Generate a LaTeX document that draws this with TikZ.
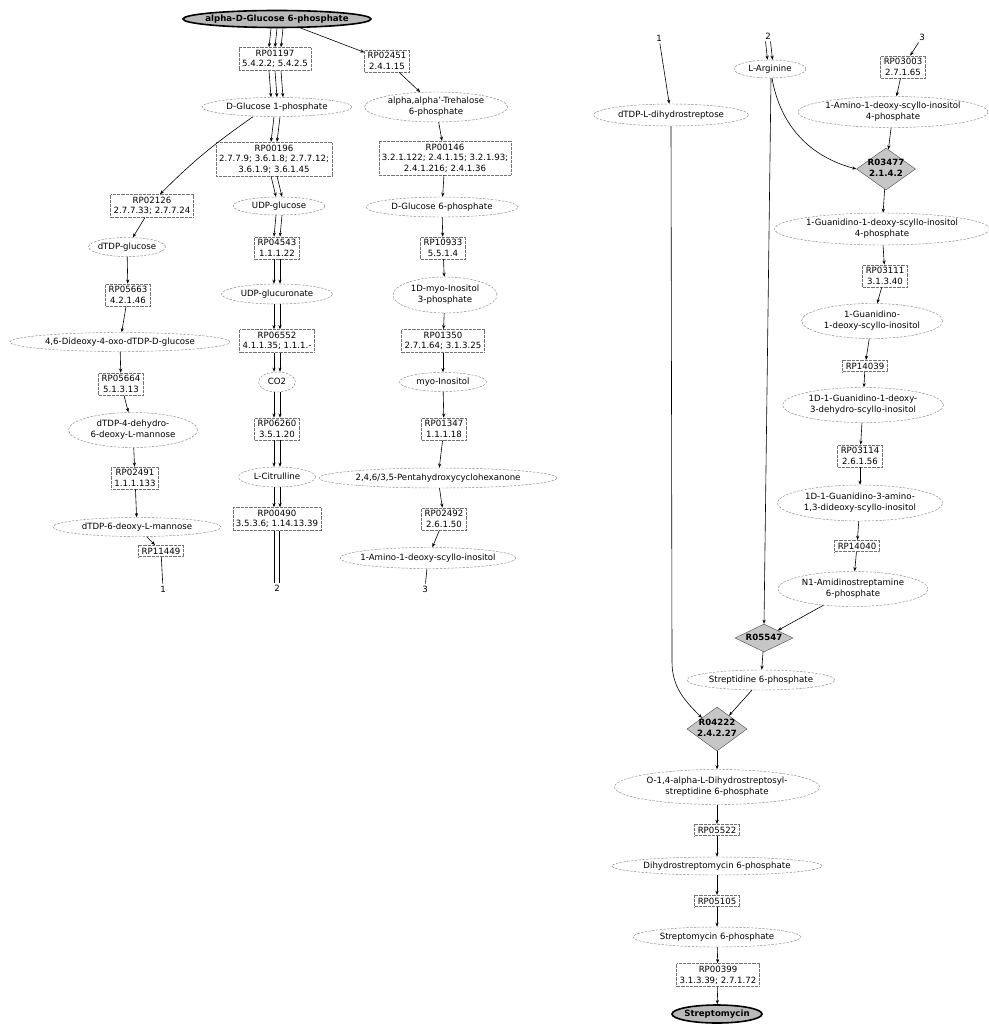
\documentclass[tikz,border=0pt]{standalone}
\usepackage{fontspec}
\setmainfont{DejaVu Sans}
\usetikzlibrary{shapes.geometric,arrows.meta}

% base font for every label
\newcommand\nf{\fontsize{8.6}{10.6}\selectfont}
% centred text of zero width, so a node keeps its given size
\newcommand\zw[1]{\makebox[0pt]{\begin{tabular}{@{}c@{}}#1\end{tabular}}}
% several parallel arrows between two vertically stacked nodes
\newcommand\pedges[3]{\foreach \s in {#3}{\draw[arr] ([xshift=\s pt]#1.south) -- ([xshift=\s pt]#2.north);}}

\tikzset{
  met/.style 2 args={ellipse, draw=gray!95, dash pattern=on 2.4pt off 1.4pt,
    line width=0.45pt, minimum width=#1, minimum height=#2, inner sep=0pt},
  rxn/.style={rectangle, draw=black!55, dash pattern=on 0.5pt off 0.8pt,
    line width=0.55pt, inner xsep=3pt, inner ysep=2.5pt, align=center},
  gate/.style 2 args={diamond, draw=gray!60!black, fill=gray!45, line width=0.4pt,
    minimum width=#1, minimum height=#2, inner sep=0pt, font=\nf\bfseries},
  term/.style 2 args={ellipse, draw=black, line width=1.6pt, fill=gray!55,
    minimum width=#1, minimum height=#2, inner sep=0pt, font=\nf\bfseries},
  num/.style={inner sep=2pt, font=\nf},
  arr/.style={-{Stealth[length=4.2pt,width=3.2pt]}, line width=0.6pt},
  stub/.style={line width=0.6pt},
}

\begin{document}
\begin{tikzpicture}[x=1pt, y=1pt, font=\nf]
\fill[white] (0,0) rectangle (988,-1024);
\useasboundingbox (0,0) rectangle (988,-1024);

% ---------------- left part: three feeder pathways ----------------
\node[term={188}{17}] (g6pa) at (277,-19) {\zw{alpha-D-Glucose 6-phosphate}};
\node[rxn] (rp01197) at (275,-59) {RP01197\\5.4.2.2; 5.4.2.5};
\node[rxn] (rp02451) at (387,-61) {RP02451\\2.4.1.15};
\node[met={150}{19}] (g1p) at (277,-107) {\zw{D-Glucose 1-phosphate}};
\node[met={143}{29}] (tre6p) at (436,-107) {\zw{alpha,alpha'-Trehalose\\6-phosphate}};
\node[rxn] (rp00196) at (274,-159) {RP00196\\2.7.7.9; 3.6.1.8; 2.7.7.12;\\3.6.1.9; 3.6.1.45};
\node[rxn] (rp00146) at (445,-158) {RP00146\\3.2.1.122; 2.4.1.15; 3.2.1.93;\\2.4.1.216; 2.4.1.36};
\node[rxn] (rp02126) at (152,-206) {RP02126\\2.7.7.33; 2.7.7.24};
\node[met={92}{18}] (udpglc) at (279,-206) {\zw{UDP-glucose}};
\node[met={152}{20}] (g6pb) at (442,-207) {\zw{D-Glucose 6-phosphate}};
\node[met={77}{19}] (dtdpglc) at (127,-247) {\zw{dTDP-glucose}};
\node[rxn] (rp04543) at (277,-248) {RP04543\\1.1.1.22};
\node[rxn] (rp10933) at (443,-248) {RP10933\\5.5.1.4};
\node[met={111}{20}] (udpgla) at (277,-294) {\zw{UDP-glucuronate}};
\node[met={104}{36}] (mi3p) at (445,-295) {\zw{1D-myo-Inositol\\3-phosphate}};
\node[rxn] (rp05663) at (128,-295) {RP05663\\4.2.1.46};
\node[met={220}{19}] (dideoxy) at (120,-342) {\zw{4,6-Dideoxy-4-oxo-dTDP-D-glucose}};
\node[rxn] (rp06552) at (277,-341) {RP06552\\4.1.1.35; 1.1.1.-};
\node[rxn] (rp01350) at (443,-341) {RP01350\\2.7.1.64; 3.1.3.25};
\node[met={37}{20}] (co2) at (277,-382) {\zw{CO2}};
\node[met={87}{19}] (myoino) at (443,-382) {\zw{myo-Inositol}};
\node[rxn] (rp05664) at (121,-384) {RP05664\\5.1.3.13};
\node[met={129}{35}] (dehydro) at (133,-430) {\zw{dTDP-4-dehydro-\\6-deoxy-L-mannose}};
\node[rxn] (rp06260) at (277,-429) {RP06260\\3.5.1.20};
\node[rxn] (rp01347) at (444,-429) {RP01347\\1.1.1.18};
\node[met={77}{20}] (citr) at (277,-477) {\zw{L-Citrulline}};
\node[met={238}{20}] (penta) at (438,-478) {\zw{2,4,6/3,5-Pentahydroxycyclohexanone}};
\node[rxn] (rp02491) at (135,-478) {RP02491\\1.1.1.133};
\node[rxn] (rp00490) at (277,-519) {RP00490\\3.5.3.6; 1.14.13.39};
\node[rxn] (rp02492) at (444,-519) {RP02492\\2.6.1.50};
\node[met={168}{19}] (deoxyman) at (137,-527) {\zw{dTDP-6-deoxy-L-mannose}};
\node[rxn] (rp11449) at (161,-551) {RP11449};
\node[met={176}{21}] (amino) at (428,-558) {\zw{1-Amino-1-deoxy-scyllo-inositol}};
\node[num] (l1a) at (163,-589) {1};
\node[num] (l2a) at (277,-588) {2};
\node[num] (l3a) at (425,-589) {3};

% connectors, left part
\pedges{g6pa}{rp01197}{-6,0,6}
\draw[arr] (g6pa) -- (rp02451);
\pedges{rp01197}{g1p}{-6,0,6}
\draw[arr] (rp02451) -- (tre6p);
\pedges{g1p}{rp00196}{-3,3}
\draw[arr] ([xshift=-24pt]g1p.south) to[out=-145, in=45] ([xshift=8pt]rp02126.north);
\draw[arr] (tre6p) -- (rp00146);
\pedges{rp00196}{udpglc}{-3,3}
\draw[arr] (rp00146) -- (g6pb);
\pedges{udpglc}{rp04543}{-3,3}
\draw[arr] (g6pb) -- (rp10933);
\draw[arr] (rp02126) -- (dtdpglc);
\pedges{rp04543}{udpgla}{-3,3}
\draw[arr] (rp10933) -- (mi3p);
\draw[arr] (dtdpglc) -- (rp05663);
\pedges{udpgla}{rp06552}{-3,3}
\draw[arr] (mi3p) -- (rp01350);
\draw[arr] (rp05663) -- (dideoxy);
\pedges{rp06552}{co2}{-3,3}
\draw[arr] (rp01350) -- (myoino);
\draw[arr] (dideoxy) -- (rp05664);
\pedges{co2}{rp06260}{-3,3}
\draw[arr] (myoino) -- (rp01347);
\draw[arr] (rp05664) -- (dehydro);
\pedges{rp06260}{citr}{-3,3}
\draw[arr] (rp01347) -- (penta);
\draw[arr] (dehydro) -- (rp02491);
\pedges{citr}{rp00490}{-3,3}
\draw[arr] (penta) -- (rp02492);
\draw[arr] (rp02491) -- (deoxyman);
\foreach \s in {-2.5,2.5}{\draw[stub] ([xshift=\s pt]rp00490.south) -- ([xshift=\s pt]l2a.north);}
\draw[arr] (rp02492) -- (amino);
\draw[arr] (deoxyman) -- (rp11449);
\draw[stub] (rp11449) -- (l1a);
\draw[stub] (amino) -- (l3a);

% ---------------- right part: streptomycin assembly ----------------
\node[num] (l1b) at (659,-38) {1};
\node[num] (l2b) at (768,-36) {2};
\node[num] (l3b) at (922,-37) {3};
\node[met={155}{22}] (dhs) at (671,-115) {\zw{dTDP-L-dihydrostreptose}};
\node[met={72}{18}] (arg) at (770,-69) {\zw{L-Arginine}};
\node[rxn] (rp03003) at (903,-67) {RP03003\\2.7.1.65};
\node[met={190}{31}] (amino4p) at (893,-112) {\zw{1-Amino-1-deoxy-scyllo-inositol\\4-phosphate}};
\node[gate={59}{42}] (r03477) at (886,-169) {\zw{R03477\\2.1.4.2}};
\node[met={215}{32}] (guan4p) at (882,-229) {\zw{1-Guanidino-1-deoxy-scyllo-inositol\\4-phosphate}};
\node[rxn] (rp03111) at (885,-276) {RP03111\\3.1.3.40};
\node[met={141}{35}] (guan) at (872,-321) {\zw{1-Guanidino-\\1-deoxy-scyllo-inositol}};
\node[rxn] (rp14039) at (865,-366) {RP14039};
\node[met={161}{35}] (guandh) at (863,-405) {\zw{1D-1-Guanidino-1-deoxy-\\3-dehydro-scyllo-inositol}};
\node[rxn] (rp03114) at (860,-456) {RP03114\\2.6.1.56};
\node[met={165}{36}] (guanam) at (860,-503) {\zw{1D-1-Guanidino-3-amino-\\1,3-dideoxy-scyllo-inositol}};
\node[rxn] (rp14040) at (857,-546) {RP14040};
\node[met={150}{35}] (n1) at (853,-589) {\zw{N1-Amidinostreptamine\\6-phosphate}};
\node[gate={58}{28}] (r05547) at (764,-638) {\zw{R05547}};
\node[met={148}{20}] (strep6p) at (761,-680) {\zw{Streptidine 6-phosphate}};
\node[gate={60}{44}] (r04222) at (717,-729) {\zw{R04222\\2.4.2.27}};
\node[met={205}{35}] (odhs) at (717,-787) {\zw{O-1,4-alpha-L-Dihydrostreptosyl-\\streptidine 6-phosphate}};
\node[rxn] (rp05522) at (717,-830) {RP05522};
\node[met={210}{18}] (dhsm6p) at (717,-866) {\zw{Dihydrostreptomycin 6-phosphate}};
\node[rxn] (rp05105) at (717,-901) {RP05105};
\node[met={168}{20}] (sm6p) at (717,-937) {\zw{Streptomycin 6-phosphate}};
\node[rxn] (rp00399) at (718,-975) {RP00399\\3.1.3.39; 2.7.1.72};
\node[term={90}{18}] (strep) at (717,-1014) {\zw{Streptomycin}};
\coordinate (dhsbend) at (672,-662);

% connectors, right part
\draw[arr] (l1b) -- (dhs);
\pedges{l2b}{arg}{-2.5,2.5}
\draw[arr] (l3b) -- (rp03003);
\draw[arr] (rp03003) -- (amino4p);
\draw[arr] (amino4p) -- (r03477);
\draw[arr] ([xshift=2pt]arg.south) to[out=-80, in=165] (r03477.west);
\draw[arr] ([xshift=1pt]arg.south) -- (r05547.north);
\draw[arr] (r03477) -- (guan4p);
\draw[arr] (guan4p) -- (rp03111);
\draw[arr] (rp03111) -- (guan);
\draw[arr] (guan) -- (rp14039);
\draw[arr] (rp14039) -- (guandh);
\draw[arr] (guandh) -- (rp03114);
\draw[arr] (rp03114) -- (guanam);
\draw[arr] (guanam) -- (rp14040);
\draw[arr] (rp14040) -- (n1);
\draw[arr] (n1) -- (r05547);
\draw[arr] (r05547) -- (strep6p);
\draw[arr] (strep6p) -- (r04222);
\draw[arr] (dhs.south) -- (dhsbend) to[out=-90, in=135] (r04222.north west);
\draw[arr] (r04222) -- (odhs);
\draw[arr] (odhs) -- (rp05522);
\draw[arr] (rp05522) -- (dhsm6p);
\draw[arr] (dhsm6p) -- (rp05105);
\draw[arr] (rp05105) -- (sm6p);
\draw[arr] (sm6p) -- (rp00399);
\draw[arr] (rp00399) -- (strep);
\end{tikzpicture}
\end{document}
